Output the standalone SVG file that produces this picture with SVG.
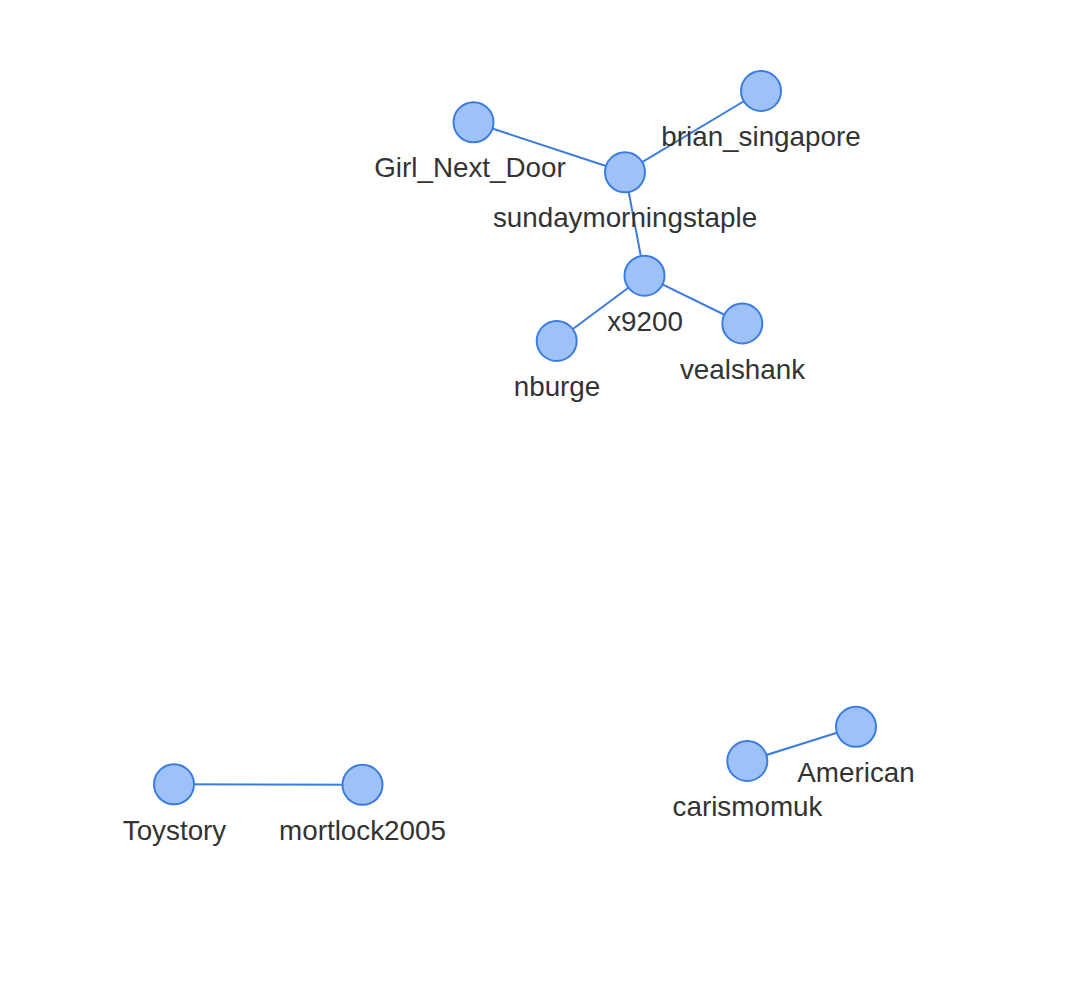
<svg xmlns="http://www.w3.org/2000/svg" width="1074" height="992" viewBox="0 0 1074 992">
<style>
.n circle{fill:#9ec2f7;stroke:#3b7ce0;stroke-width:2}
.n text{font-family:"Liberation Sans",Arial,sans-serif;font-size:27.8px;fill:#333;text-anchor:middle}
#edges line{stroke:#3b7ce0;stroke-width:2}
</style>
<rect width="1074" height="992" fill="#fff"/>
<g id="edges">
<line x1="473.5" y1="122.3" x2="625" y2="172.3"/>
<line x1="761" y1="91" x2="625" y2="172.3"/>
<line x1="625" y1="172.3" x2="644.5" y2="275.7"/>
<line x1="644.5" y1="275.7" x2="556.7" y2="341"/>
<line x1="644.5" y1="275.7" x2="742.3" y2="323.5"/>
<line x1="174" y1="784.3" x2="362.5" y2="784.8"/>
<line x1="747.3" y1="761" x2="856" y2="726.8"/>
</g>
<g id="Girl_Next_Door" class="n"><circle cx="473.5" cy="122.3" r="20"/><text x="470" y="177">Girl_Next_Door</text></g>
<g id="brian_singapore" class="n"><circle cx="761" cy="91" r="20"/><text x="761" y="146">brian_singapore</text></g>
<g id="sundaymorningstaple" class="n"><circle cx="625" cy="172.3" r="20"/><text x="625" y="227">sundaymorningstaple</text></g>
<g id="x9200" class="n"><circle cx="644.5" cy="275.7" r="20"/><text x="645" y="330.5">x9200</text></g>
<g id="nburge" class="n"><circle cx="556.7" cy="341" r="20"/><text x="557" y="396">nburge</text></g>
<g id="vealshank" class="n"><circle cx="742.3" cy="323.5" r="20"/><text x="742.5" y="378.5">vealshank</text></g>
<g id="Toystory" class="n"><circle cx="174" cy="784.3" r="20"/><text x="174.5" y="839.5">Toystory</text></g>
<g id="mortlock2005" class="n"><circle cx="362.5" cy="784.8" r="20"/><text x="362.5" y="839.5">mortlock2005</text></g>
<g id="carismomuk" class="n"><circle cx="747.3" cy="761" r="20"/><text x="747.5" y="816">carismomuk</text></g>
<g id="American" class="n"><circle cx="856" cy="726.8" r="20"/><text x="856" y="782">American</text></g>
</svg>
